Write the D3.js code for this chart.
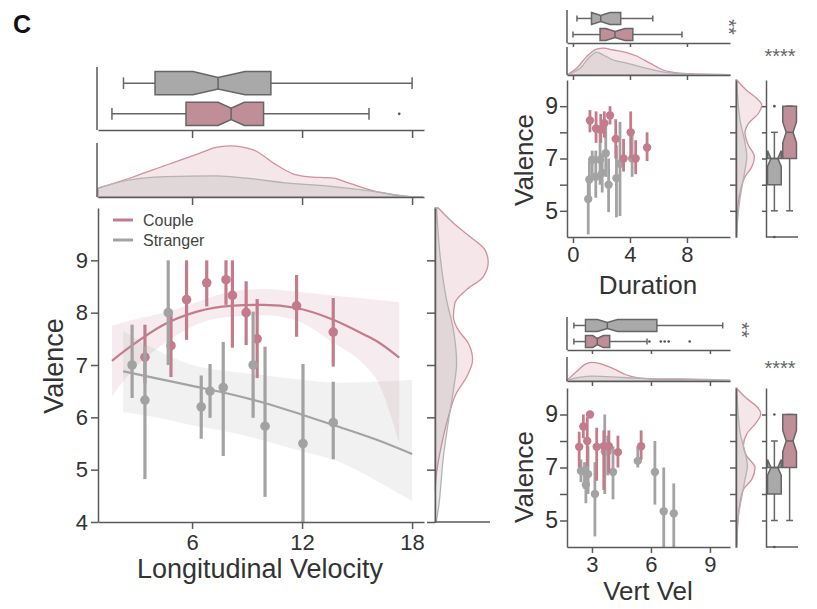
<!DOCTYPE html>
<html>
<head>
<meta charset="utf-8">
<script src="https://cdn.jsdelivr.net/npm/d3@7"></script>
<style>
body { margin: 0; background: #fff; }
text { font-family: "Liberation Sans", Arial, Helvetica, sans-serif; }
</style>
</head>
<body>
<script>

// ---------- data ----------
// points: [x, mean valence, ci low, ci high]
var coupleLon = [[3.43,7.15,6.65,7.77],[4.85,7.37,6.77,8.02],[5.7,8.25,7.48,9.0],[6.8,8.57,8.12,9.0],
  [7.85,8.63,8.15,9.0],[8.2,8.33,7.33,9.0],[8.95,8.0,7.38,8.6],[9.55,7.5,6.75,8.26],[11.7,8.13,7.54,8.72],[13.7,7.63,6.97,8.28]];
var strangerLon = [[2.73,7.0,6.37,7.77],[3.43,6.33,4.82,7.35],[4.7,8.0,7.0,9.0],[6.5,6.2,5.59,6.8],[6.98,6.5,5.99,7.02],
  [7.7,6.57,5.26,7.44],[9.33,7.0,5.99,8.02],[9.98,5.83,4.48,7.35],[12.05,5.5,4.0,7.02],[13.7,5.9,5.2,6.68]];
// regression fits: [x, fit, band low, band high]
var coupleLonFit = [[1.63,7.08,6.4,7.75],[2.63,7.35,6.85,7.85],[4.45,7.77,7.4,8.0],[6.27,8.02,7.78,8.2],[8.1,8.13,7.92,8.4],
  [9.9,8.15,7.95,8.45],[11.7,8.09,7.85,8.4],[13.6,7.88,7.45,8.33],[15.4,7.58,7.0,8.27],[16.1,7.45,6.7,8.24],[17.3,7.14,5.5,8.2]];
var strangerLonFit = [[2.24,6.88,6.1,7.65],[4,6.75,6.0,7.3],[6,6.6,5.85,7.0],[8,6.45,5.72,6.88],[10,6.27,5.55,6.8],
  [12,6.05,5.35,6.72],[14,5.82,5.15,6.66],[16,5.58,4.8,6.68],[18,5.3,4.4,6.72]];
// marginal densities: [value, density]
var coupleLonDens = [[0.87,0.022],[2.78,0.05],[4.6,0.08],[6.4,0.109],[7.3,0.124],[8.07,0.128],[9.33,0.118],[10.6,0.08],
  [11.5,0.058],[12.27,0.051],[13.7,0.047],[14.6,0.034],[16.1,0.013],[17.9,0.001],[18.6,0]];
var strangerLonDens = [[0.87,0.022],[2.07,0.038],[3.33,0.047],[4.6,0.051],[7.3,0.053],[9.0,0.047],[10.97,0.036],
  [13.7,0.026],[16.1,0.013],[17.9,0.001],[18.6,0]];
var coupleValDens = [[10.0,0.008],[9.72,0.045],[9.45,0.088],[9.2,0.125],[8.97,0.133],[8.68,0.12],[8.44,0.079],[8.19,0.05],
  [7.92,0.046],[7.67,0.058],[7.42,0.083],[7.1,0.094],[6.77,0.079],[6.47,0.054],[6.0,0.033],[5.5,0.017],[4.94,0.004],[4.6,0]];
var strangerValDens = [[10.0,0.004],[9.07,0.013],[8.24,0.029],[7.67,0.046],[7.04,0.054],[6.52,0.046],[5.9,0.033],
  [5.25,0.021],[4.23,0.008],[4.0,0.003]];
// box stats: [whisker low, q1, notch low, median, notch high, q3, whisker high]
var coupleLonBox = [1.63,5.67,7.42,8.13,8.85,9.9,15.65], coupleLonOut = [17.3];
var strangerLonBox = [2.26,3.98,6.05,7.42,8.89,10.3,18.0], strangerLonOut = [];

// Duration panel
var coupleDur = [[1.19,8.45,8.0,8.85],[1.62,8.15,7.6,8.8],[1.95,8.1,7.6,8.7],[2.2,8.35,7.8,8.8],[2.6,8.65,8.3,9.0],
  [3.0,7.75,7.0,8.5],[3.55,7.0,6.5,7.75],[4.05,8.0,7.0,8.8],[4.4,7.0,6.4,7.7],[5.2,7.42,6.9,8.0]];
var strangerDur = [[1.07,5.45,4.1,6.2],[1.15,6.2,5.5,6.9],[1.35,6.95,6.2,7.3],[1.6,6.3,5.5,7.3],[1.9,6.95,6.0,8.1],
  [2.05,6.45,5.7,7.2],[2.3,7.2,6.3,8.3],[2.5,6.0,4.95,7.0],[3.05,6.25,4.75,7.5],[3.3,6.8,4.8,8.4],[4.15,7.0,6.3,7.9]];
var coupleDurDens = [[-0.33,0.005],[0.26,0.034],[0.96,0.092],[1.66,0.129],[2.13,0.134],[2.83,0.125],[3.77,0.112],
  [4.47,0.095],[5.4,0.059],[6.34,0.025],[7.5,0.009],[8.9,0.004],[11,0.002]];
var strangerDurDens = [[-0.33,0.004],[0.5,0.034],[1.2,0.092],[1.66,0.114],[2.13,0.1],[2.83,0.075],[3.77,0.059],
  [4.7,0.042],[5.87,0.022],[7.0,0.009],[8.9,0.004],[11,0.002]];
var coupleDurVal = [[10,0.004],[9.6,0.054],[9.3,0.104],[9.04,0.129],[8.72,0.112],[8.33,0.062],[7.97,0.045],[7.51,0.062],
  [7.07,0.092],[6.68,0.079],[6.3,0.045],[5.68,0.02],[4.92,0.007],[4.0,0.003]];
var strangerDurVal = [[10,0.004],[8.47,0.02],[7.6,0.045],[7.07,0.054],[6.56,0.045],[5.9,0.029],[4.98,0.012],[4.0,0.003]];
var coupleDurBox = [0,1.9,2.3,2.95,3.65,4.2,7.65], coupleDurOut = [];
var strangerDurBox = [0.28,1.3,1.3,1.95,2.6,3.35,5.6], strangerDurOut = [];

// Vertical velocity panel
var coupleVert = [[2.35,7.78,7.0,8.35],[2.56,8.55,8.1,9.0],[2.9,9.0,9.0,9.0],[2.76,8.0,7.05,8.9],[3.24,7.78,6.5,8.5],
  [3.6,7.8,6.15,8.4],[3.86,7.8,6.8,8.4],[4.32,7.58,7.0,8.2],[5.5,7.8,7.3,8.4]];
var strangerVert = [[2.44,6.88,6.45,7.3],[2.62,6.85,6.2,7.2],[2.69,6.35,5.65,7.1],[2.8,6.75,6.0,7.8],[3.15,6.0,4.4,7.2],
  [3.65,7.6,6.0,9.0],[3.8,7.6,6.7,8.2],[4.07,6.83,5.8,7.8],[5.33,7.25,7.0,7.8],[6.2,6.83,5.6,8.0],[6.65,5.35,4.0,7.0],[7.16,5.27,4.0,6.4]];
var coupleVertDens = [[1.73,0.005],[2.22,0.055],[2.64,0.097],[2.98,0.109],[3.41,0.102],[4.08,0.072],[4.76,0.035],
  [5.44,0.017],[6.46,0.01],[7.82,0.009],[9.15,0.005],[10,0.004]];
var strangerVertDens = [[1.73,0.005],[2.39,0.022],[2.98,0.029],[3.74,0.025],[4.76,0.019],[5.95,0.014],[7.48,0.012],
  [8.83,0.009],[10,0.005]];
var coupleVertVal = [[9.98,0.004],[9.6,0.054],[9.3,0.104],[9.03,0.124],[8.72,0.104],[8.27,0.054],[7.81,0.037],[7.43,0.054],
  [7.0,0.095],[6.55,0.079],[6.17,0.037],[5.52,0.017],[4.76,0.007],[4.0,0.004]];
var strangerVertVal = [[10,0.004],[8.34,0.02],[7.58,0.045],[7.05,0.057],[6.55,0.045],[5.9,0.029],[5.15,0.012],[4.0,0.004]];
var coupleVertBox = [2.08,2.67,3.04,3.27,3.58,3.9,5.8], coupleVertOut = [5.92,6.5,6.7,6.9,7.97];
var strangerVertBox = [2.08,2.67,3.28,3.78,4.3,6.3,9.65], strangerVertOut = [];

// valence box plots (same in both small panels)
var coupleValBox = [5,7,7.6,8,8.4,9,9], coupleValOut = [];
var strangerValBox = [5,6,6.7,7,7.3,7,8], strangerValOut = [9,4];

var groups = ["Stranger", "Couple"];
var legendLabels = ["Couple", "Stranger"];
var valTicks = [4,5,6,7,8,9];

// ---------- style ----------
var pink = "#c47b8c", gray = "#a3a3a3";
var pinkBox = "#bf8e98", grayBox = "#a9a9a9";
var axisCol = "#5a5a5a", textCol = "#333";
var fmt = d3.format("d");

var svg = d3.select("body").append("svg")
  .attr("width", 817)
  .attr("height", 609);

function styleAxis(g, fs) {
  g.select(".domain").attr("stroke", axisCol).attr("stroke-width", 1.5);
  g.selectAll(".tick line").attr("stroke", axisCol).attr("stroke-width", 1.5);
  g.selectAll(".tick text").attr("fill", textCol).style("font-size", fs + "px")
    .style("font-family", "'Liberation Sans', Arial, sans-serif");
}

function vline(x, y0, y1) {
  svg.append("line").attr("x1", x).attr("x2", x).attr("y1", y0).attr("y2", y1)
    .attr("stroke", axisCol).attr("stroke-width", 1.5);
}
function hline(y, x0, x1) {
  svg.append("line").attr("x1", x0).attr("x2", x1).attr("y1", y).attr("y2", y)
    .attr("stroke", axisCol).attr("stroke-width", 1.5);
}

// notched box (matplotlib style path)
function drawBox(s, outliers, val, band, key, horiz, fill) {
  var c = band(key) + band.bandwidth() / 2, h = band.bandwidth() / 2;
  var P = horiz ? function(v, o) { return [val(v), c + o]; } : function(v, o) { return [c + o, val(v)]; };
  var pts = [[s[1],-h],[s[2],-h],[s[3],-h/2],[s[4],-h],[s[5],-h],[s[5],h],[s[4],h],[s[3],h/2],[s[2],h],[s[1],h]];
  var g = svg.append("g");
  var seg = function(a, b) {
    g.append("line").attr("x1", a[0]).attr("y1", a[1]).attr("x2", b[0]).attr("y2", b[1])
      .attr("stroke", "#666").attr("stroke-width", 1.5);
  };
  seg(P(s[0], 0), P(s[1], 0));
  seg(P(s[5], 0), P(s[6], 0));
  seg(P(s[0], -h/2), P(s[0], h/2));
  seg(P(s[6], -h/2), P(s[6], h/2));
  g.append("path")
    .attr("d", "M" + pts.map(function(p) { return P(p[0], p[1]).join(","); }).join("L") + "Z")
    .attr("fill", fill).attr("stroke", "#666").attr("stroke-width", 1.5);
  seg(P(s[3], -h/2), P(s[3], h/2));
  outliers.forEach(function(o) {
    var p = P(o, 0);
    g.append("circle").attr("cx", p[0]).attr("cy", p[1]).attr("r", 1.3).attr("fill", "#555");
  });
}

function densTop(data, x, yd, fill, stroke) {
  var area = d3.area().x(function(d) { return x(d[0]); }).y0(yd(0)).y1(function(d) { return yd(d[1]); })
    .curve(d3.curveMonotoneX);
  svg.append("path").attr("d", area(data)).attr("fill", fill).attr("stroke", stroke).attr("stroke-width", 1.3);
}
function densRight(data, y, xd, fill, stroke) {
  var area = d3.area().y(function(d) { return y(d[0]); }).x0(xd(0)).x1(function(d) { return xd(d[1]); })
    .curve(d3.curveMonotoneY);
  svg.append("path").attr("d", area(data)).attr("fill", fill).attr("stroke", stroke).attr("stroke-width", 1.3);
}

function points(data, x, y, col, r, sw) {
  var g = svg.append("g");
  data.forEach(function(d) {
    g.append("line").attr("x1", x(d[0])).attr("x2", x(d[0])).attr("y1", y(d[2])).attr("y2", y(d[3]))
      .attr("stroke", col).attr("stroke-width", sw);
    g.append("circle").attr("cx", x(d[0])).attr("cy", y(d[1])).attr("r", r).attr("fill", col);
  });
}

var pinkFill = "rgba(200,128,146,0.2)", grayFill = "rgba(150,150,150,0.2)";
var pinkLine = "#d1909e", grayLine = "#b3b3b3";

// ---------- main panel ----------
var x = d3.scaleLinear().domain([0.87, 18.65]).range([98, 424]);
var y = d3.scaleLinear().domain([4, 10]).range([522, 208]);

// top box plot
var bandMain = d3.scaleBand().domain(groups).range([67, 130]).paddingInner(0.25).paddingOuter(0.15);
vline(97, 67, 130);
var gb = svg.append("g").attr("transform", "translate(0,130)")
  .call(d3.axisBottom(x).tickValues([6,12,18]).tickFormat("").tickSize(8).tickSizeOuter(0));
styleAxis(gb, 12);
drawBox(strangerLonBox, strangerLonOut, x, bandMain, "Stranger", true, grayBox);
drawBox(coupleLonBox, coupleLonOut, x, bandMain, "Couple", true, pinkBox);

// top density
var ydTop = d3.scaleLinear().domain([0, 0.135]).range([197, 143]);
densTop(coupleLonDens, x, ydTop, pinkFill, pinkLine);
densTop(strangerLonDens, x, ydTop, grayFill, grayLine);
vline(97, 143, 197);
var gd = svg.append("g").attr("transform", "translate(0,197)")
  .call(d3.axisBottom(x).tickValues([6,12,18]).tickFormat("").tickSize(8).tickSizeOuter(0));
styleAxis(gd, 12);

// right density
var xdRight = d3.scaleLinear().domain([0, 0.1375]).range([435, 490]);
densRight(coupleValDens, y, xdRight, pinkFill, pinkLine);
densRight(strangerValDens, y, xdRight, grayFill, grayLine);
var gr = svg.append("g").attr("transform", "translate(435,0)")
  .call(d3.axisLeft(y).tickValues(valTicks).tickFormat("").tickSize(8).tickSizeOuter(0));
styleAxis(gr, 12);
hline(522, 435, 490);

// regression bands + lines + points
var band = d3.area().x(function(d) { return x(d[0]); })
  .y0(function(d) { return y(d[2]); }).y1(function(d) { return y(d[3]); }).curve(d3.curveMonotoneX);
var fit = d3.line().x(function(d) { return x(d[0]); }).y(function(d) { return y(d[1]); }).curve(d3.curveMonotoneX);

points(coupleLon, x, y, pink, 4.8, 3.2);
svg.append("path").attr("d", band(coupleLonFit)).attr("fill", "rgba(196,123,140,0.15)");
svg.append("path").attr("d", fit(coupleLonFit)).attr("fill", "none").attr("stroke", pink).attr("stroke-width", 2.2);
points(strangerLon, x, y, gray, 4.8, 3.2);
svg.append("path").attr("d", band(strangerLonFit)).attr("fill", "rgba(160,160,160,0.15)");
svg.append("path").attr("d", fit(strangerLonFit)).attr("fill", "none").attr("stroke", gray).attr("stroke-width", 2.2);

var gx = svg.append("g").attr("transform", "translate(0,522)")
  .call(d3.axisBottom(x).tickValues([6,12,18]).tickFormat(fmt).tickSize(7).tickPadding(5).tickSizeOuter(0));
styleAxis(gx, 22);
var gy = svg.append("g").attr("transform", "translate(98,0)")
  .call(d3.axisLeft(y).tickValues(valTicks).tickFormat(fmt).tickSize(7).tickPadding(3).tickSizeOuter(0));
styleAxis(gy, 22);

svg.append("text").attr("x", 260).attr("y", 578).attr("text-anchor", "middle")
  .style("font-size", "27px").attr("fill", textCol).text("Longitudinal Velocity");
svg.append("text").attr("transform", "translate(63,366) rotate(-90)").attr("text-anchor", "middle")
  .style("font-size", "27px").attr("fill", textCol).text("Valence");

// legend
legendLabels.forEach(function(l, i) {
  var ly = 220 + i * 20;
  svg.append("line").attr("x1", 113).attr("x2", 133).attr("y1", ly).attr("y2", ly)
    .attr("stroke", i === 0 ? pink : gray).attr("stroke-width", 3);
  svg.append("text").attr("x", 143).attr("y", ly + 6).style("font-size", "16px").attr("fill", "#444").text(l);
});

svg.append("text").attr("x", 13).attr("y", 33).style("font-size", "25px").style("font-weight", "bold")
  .attr("fill", "#111").text("C");

// ---------- small panels ----------
function smallPanel(L) {
  var sx = d3.scaleLinear().domain(L.xDomain).range([567, 730]);
  var sy = d3.scaleLinear().domain([4, 10]).range([L.sc[1], L.sc[0]]);

  // top boxes
  var bandS = d3.scaleBand().domain(groups).range(L.box).paddingInner(0.25).paddingOuter(0.15);
  vline(567, L.box[0], L.box[1]);
  var g1 = svg.append("g").attr("transform", "translate(0," + L.box[1] + ")")
    .call(d3.axisBottom(sx).tickValues(L.xTicks).tickFormat("").tickSize(4).tickSizeOuter(0));
  styleAxis(g1, 10);
  drawBox(L.sBox, L.sOut, sx, bandS, "Stranger", true, grayBox);
  drawBox(L.cBox, L.cOut, sx, bandS, "Couple", true, pinkBox);

  // top density
  var yd = d3.scaleLinear().domain([0, 0.14]).range([L.dens[1], L.dens[0]]);
  densTop(L.cDens, sx, yd, pinkFill, pinkLine);
  densTop(L.sDens, sx, yd, grayFill, grayLine);
  vline(567, L.dens[0], L.dens[1]);
  var g2 = svg.append("g").attr("transform", "translate(0," + L.dens[1] + ")")
    .call(d3.axisBottom(sx).tickValues(L.xTicks).tickFormat("").tickSize(5).tickSizeOuter(0));
  styleAxis(g2, 10);

  // scatter
  points(L.sPts, sx, sy, gray, 4.2, 2.8);
  points(L.cPts, sx, sy, pink, 4.2, 2.8);
  var g3 = svg.append("g").attr("transform", "translate(0," + L.sc[1] + ")")
    .call(d3.axisBottom(sx).tickValues(L.xTicks).tickFormat(fmt).tickSize(6).tickPadding(3).tickSizeOuter(0));
  styleAxis(g3, 22);
  var g4 = svg.append("g").attr("transform", "translate(567,0)")
    .call(d3.axisLeft(sy).tickValues(valTicks.slice(1)).tickSize(7).tickPadding(2)
      .tickFormat(function(d) { return d % 2 ? d : ""; }).tickSizeOuter(0));
  styleAxis(g4, 23);

  // right density
  var xd = d3.scaleLinear().domain([0, 0.15]).range([736, 766]);
  densRight(L.cVal, sy, xd, pinkFill, pinkLine);
  densRight(L.sVal, sy, xd, grayFill, grayLine);
  var g5 = svg.append("g").attr("transform", "translate(736,0)")
    .call(d3.axisLeft(sy).tickValues(valTicks.slice(1)).tickFormat("").tickSize(6).tickSizeOuter(0));
  styleAxis(g5, 10);

  // right valence boxes
  var bandV = d3.scaleBand().domain(groups).range([766, 798]).paddingInner(0.1).paddingOuter(0.1);
  drawBox(strangerValBox, strangerValOut, sy, bandV, "Stranger", false, grayBox);
  drawBox(coupleValBox, coupleValOut, sy, bandV, "Couple", false, pinkBox);
  var g6 = svg.append("g").attr("transform", "translate(766,0)")
    .call(d3.axisLeft(sy).tickValues(valTicks.slice(1)).tickFormat("").tickSize(4).tickSizeOuter(0));
  styleAxis(g6, 10);
  hline(L.sc[1], 766, 798);

  // labels
  svg.append("text").attr("x", 648).attr("y", L.labelY).attr("text-anchor", "middle")
    .style("font-size", "26px").attr("fill", textCol).text(L.label);
  svg.append("text").attr("transform", "translate(533," + L.valY + ") rotate(-90)").attr("text-anchor", "middle")
    .style("font-size", "26px").attr("fill", textCol).text("Valence");
  svg.append("text").attr("transform", "translate(" + L.star2[0] + "," + L.star2[1] + ") rotate(90)")
    .attr("text-anchor", "middle").style("font-size", "20px").attr("fill", "#666").text("**");
  svg.append("text").attr("x", 780).attr("y", L.star4).attr("text-anchor", "middle")
    .style("font-size", "20px").attr("fill", "#666").text("****");
}

smallPanel({
  xDomain: [-0.42, 11.02], xTicks: [0,4,8], box: [10,43], dens: [47,75], sc: [80,237],
  sBox: strangerDurBox, sOut: strangerDurOut, cBox: coupleDurBox, cOut: coupleDurOut,
  cDens: coupleDurDens, sDens: strangerDurDens, cVal: coupleDurVal, sVal: strangerDurVal,
  cPts: coupleDur, sPts: strangerDur,
  label: "Duration", labelY: 294, valY: 160, star2: [722, 27], star4: 63
});
smallPanel({
  xDomain: [1.73, 10.02], xTicks: [3,6,9], box: [317,350], dens: [357,381], sc: [388,547],
  sBox: strangerVertBox, sOut: strangerVertOut, cBox: coupleVertBox, cOut: coupleVertOut,
  cDens: coupleVertDens, sDens: strangerVertDens, cVal: coupleVertVal, sVal: strangerVertVal,
  cPts: coupleVert, sPts: strangerVert,
  label: "Vert Vel", labelY: 600, valY: 477, star2: [735, 330], star4: 375
});

</script>
</body>
</html>
